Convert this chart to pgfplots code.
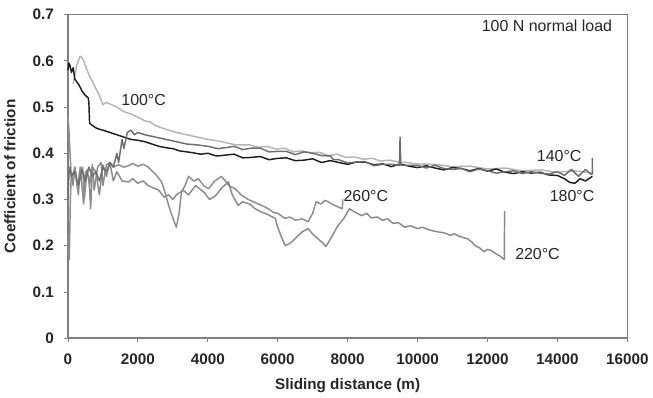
\documentclass[border=0pt]{standalone}
\usepackage{pgfplots}
\pgfplotsset{compat=1.18}
\usepackage{fontspec}
\setmainfont{Liberation Sans}

\definecolor{c100}{HTML}{B4B4B4}
\definecolor{c140}{HTML}{6E6E6E}
\definecolor{c180}{HTML}{1E1E1E}
\definecolor{c220}{HTML}{8A8A8A}
\definecolor{c260}{HTML}{8E8E8E}
\definecolor{frame}{HTML}{808080}

\begin{document}
\begin{tikzpicture}
\begin{axis}[
   scale only axis,
   width=421.5pt,
   height=243.75pt,
   xmin=0, xmax=16000,
   ymin=0, ymax=0.7,
   clip=false,
   xtick={0,2000,4000,6000,8000,10000,12000,14000,16000},
   ytick={0,0.1,0.2,0.3,0.4,0.5,0.6,0.7},
   scaled x ticks=false,
   /pgf/number format/assume math mode=true,
   /pgf/number format/1000 sep={},
   yticklabel style={/pgf/number format/fixed,/pgf/number format/precision=1, xshift=-4pt},
   xticklabel style={yshift=-5pt},
   ticklabel style={font=\fontsize{11.5}{13}\selectfont\bfseries, text=black!85},
   axis line style={frame, line width=1.2pt},
   tick style={frame, line width=0.6pt},
   tick align=outside,
   xtick pos=left, ytick pos=left,
   major tick length=3pt,
   xlabel={Sliding distance (m)},
   ylabel={Coefficient of friction},
   xlabel style={yshift=-4pt},
   ylabel style={yshift=6pt},
   label style={font=\fontsize{11.5}{13}\selectfont\bfseries, text=black!85},
   every axis plot/.append style={line width=1.1pt, line join=round},
]
% 220 C
\addplot[c220] coordinates {
(0,0.22)(40,0.17)(70,0.30)(100,0.36)(150,0.33)(200,0.37)(300,0.31)(350,0.37)(450,0.29)(500,0.36)
(600,0.35)(650,0.28)(700,0.37)(800,0.36)(900,0.31)(1000,0.375)(1100,0.35)(1200,0.38)(1300,0.34)
(1400,0.36)(1550,0.34)(1740,0.338)(1850,0.345)(2000,0.335)(2150,0.34)(2300,0.33)(2450,0.325)(2600,0.32)
(2750,0.305)(2880,0.31)(3000,0.30)(3100,0.31)(3300,0.32)(3450,0.31)(3650,0.33)(3900,0.315)(4050,0.30)
(4220,0.308)(4400,0.325)(4590,0.338)(4700,0.31)(4870,0.287)(5000,0.295)(5200,0.29)(5350,0.28)(5530,0.273)
(5700,0.268)(5930,0.259)(6000,0.24)(6100,0.22)(6210,0.20)(6350,0.205)(6500,0.215)(6700,0.23)(6870,0.237)
(7000,0.225)(7150,0.215)(7300,0.205)(7380,0.198)(7550,0.22)(7720,0.243)(7900,0.26)(8050,0.28)(8200,0.273)
(8400,0.265)(8550,0.27)(8670,0.26)(8850,0.262)(9000,0.255)(9150,0.258)(9300,0.248)(9450,0.25)(9630,0.24)
(9800,0.243)(10000,0.237)(10150,0.24)(10300,0.235)(10450,0.232)(10570,0.23)(10750,0.228)(10950,0.222)
(11050,0.226)(11200,0.22)(11430,0.215)(11550,0.208)(11650,0.20)(11780,0.195)(11900,0.187)(12000,0.192)
(12100,0.19)(12250,0.182)(12370,0.177)(12480,0.17)(12490,0.275)
};
% 260 C
\addplot[c260] coordinates {
(0,0.48)(30,0.45)(60,0.40)(90,0.36)(130,0.35)(200,0.37)(280,0.32)(330,0.36)(420,0.37)(470,0.30)
(550,0.365)(620,0.33)(700,0.375)(750,0.32)(850,0.37)(950,0.38)(1000,0.33)(1100,0.375)(1200,0.38)
(1300,0.37)(1450,0.375)(1600,0.37)(1740,0.373)(1850,0.378)(2000,0.372)(2150,0.376)(2300,0.37)(2400,0.362)
(2500,0.355)(2680,0.338)(2800,0.31)(2880,0.287)(3000,0.26)(3100,0.24)(3180,0.27)(3250,0.317)(3350,0.33)
(3450,0.35)(3600,0.34)(3730,0.345)(3880,0.33)(4020,0.323)(4200,0.34)(4390,0.35)(4500,0.34)(4600,0.33)
(4790,0.323)(4950,0.31)(5160,0.30)(5300,0.295)(5450,0.29)(5600,0.285)(5730,0.28)(5880,0.272)(6000,0.27)
(6210,0.259)(6350,0.262)(6500,0.255)(6700,0.258)(6870,0.252)(7000,0.27)(7100,0.295)(7240,0.29)
(7350,0.298)(7450,0.295)(7550,0.29)(7640,0.287)(7750,0.283)(7850,0.28)(7860,0.30)
};
% 100 C
\addplot[c100] coordinates {
(150,0.55)(250,0.59)(350,0.61)(420,0.605)(500,0.59)(600,0.57)(700,0.555)(800,0.54)(900,0.525)
(1000,0.505)(1100,0.51)(1250,0.505)(1400,0.50)(1600,0.49)(1800,0.485)(2000,0.478)(2200,0.47)
(2350,0.468)(2500,0.46)(2650,0.456)(2800,0.452)(3100,0.445)(3400,0.44)(3700,0.435)(4000,0.43)
(4200,0.428)(4400,0.425)(4800,0.418)(5200,0.418)(5450,0.413)(5700,0.415)(5950,0.409)(6200,0.411)
(6450,0.403)(6700,0.405)(6950,0.401)(7200,0.402)(7450,0.395)(7700,0.398)(7950,0.391)(8200,0.392)
(8450,0.387)(8700,0.389)(8950,0.383)(9200,0.385)(9450,0.381)(9700,0.380)(9950,0.377)(10500,0.376)
(11000,0.371)(11500,0.372)(12000,0.366)(12500,0.368)(13000,0.362)(13500,0.364)(14000,0.359)
(14500,0.362)(15000,0.357)
};
% 180 C
\addplot[c180] coordinates {
(0,0.58)(30,0.595)(60,0.59)(100,0.575)(150,0.585)(200,0.56)(300,0.55)(400,0.535)(500,0.525)
(580,0.52)(600,0.51)(620,0.465)(700,0.46)(800,0.455)(900,0.452)(1000,0.45)(1200,0.445)(1400,0.44)
(1600,0.435)(1800,0.43)(2000,0.428)(2200,0.425)(2400,0.42)(2600,0.415)(2800,0.412)(3000,0.41)
(3200,0.405)(3500,0.402)(3800,0.398)(4000,0.400)(4250,0.394)(4500,0.396)(4750,0.398)(5000,0.390)
(5250,0.391)(5500,0.393)(5750,0.386)(6000,0.389)(6250,0.390)(6500,0.384)(6750,0.385)(7000,0.388)
(7250,0.380)(7500,0.384)(7750,0.380)(8000,0.376)(8250,0.381)(8500,0.381)(8750,0.375)(9000,0.377)
(9250,0.371)(9500,0.377)(9750,0.372)(10000,0.369)(10250,0.373)(10500,0.368)(10750,0.364)(11000,0.369)
(11250,0.367)(11500,0.362)(11750,0.367)(12000,0.361)(12250,0.366)(12500,0.359)(12750,0.356)(13000,0.360)
(13250,0.357)(13500,0.359)(13750,0.353)(14000,0.352)(14200,0.345)(14350,0.337)(14500,0.335)
(14650,0.345)(14800,0.34)(15000,0.35)
};
% 140 C
\addplot[c140] coordinates {
(0,0.30)(40,0.37)(100,0.35)(200,0.36)(300,0.33)(400,0.365)(500,0.34)(600,0.37)(700,0.35)(800,0.36)
(900,0.34)(1000,0.37)(1100,0.36)(1200,0.38)(1300,0.37)(1400,0.40)(1450,0.38)(1550,0.43)(1600,0.41)
(1700,0.445)(1800,0.45)(1900,0.44)(2000,0.445)(2200,0.44)(2500,0.435)(2800,0.43)(3100,0.425)
(3400,0.42)(3700,0.418)(4000,0.415)(4300,0.41)(4500,0.412)(4750,0.415)(5000,0.408)(5250,0.411)
(5500,0.411)(5750,0.403)(6000,0.404)(6250,0.404)(6500,0.397)(6750,0.403)(7000,0.400)(7250,0.395)
(7500,0.394)(7600,0.386)(7750,0.386)(8000,0.379)(8250,0.381)(8500,0.382)(8750,0.373)(9000,0.376)
(9250,0.376)(9480,0.374)(9500,0.435)(9520,0.374)(9750,0.374)(10000,0.374)(10250,0.368)(10500,0.374)
(10750,0.367)(11000,0.365)(11250,0.367)(11500,0.360)(11750,0.366)(12000,0.362)(12250,0.357)
(12500,0.360)(12750,0.362)(13000,0.356)(13250,0.360)(13500,0.357)(13750,0.355)(14000,0.36)
(14200,0.352)(14400,0.365)(14600,0.35)(14800,0.365)(14950,0.355)(15000,0.355)(15000,0.39)
};
\node[font=\fontsize{12}{14}\selectfont, text=black!85] at (axis cs:13700,0.675) {100 N normal load};
\node[font=\fontsize{12}{14}\selectfont, text=black!85] at (axis cs:2166,0.515) {100°C};
\node[font=\fontsize{12}{14}\selectfont, text=black!85] at (axis cs:14050,0.394) {140°C};
\node[font=\fontsize{12}{14}\selectfont, text=black!85] at (axis cs:14420,0.308) {180°C};
\node[font=\fontsize{12}{14}\selectfont, text=black!85] at (axis cs:13430,0.183) {220°C};
\node[font=\fontsize{12}{14}\selectfont, text=black!85] at (axis cs:8520,0.308) {260°C};
\path (rel axis cs:0,1) -- ++(0pt,11pt);
\end{axis}
\end{tikzpicture}
\end{document}
